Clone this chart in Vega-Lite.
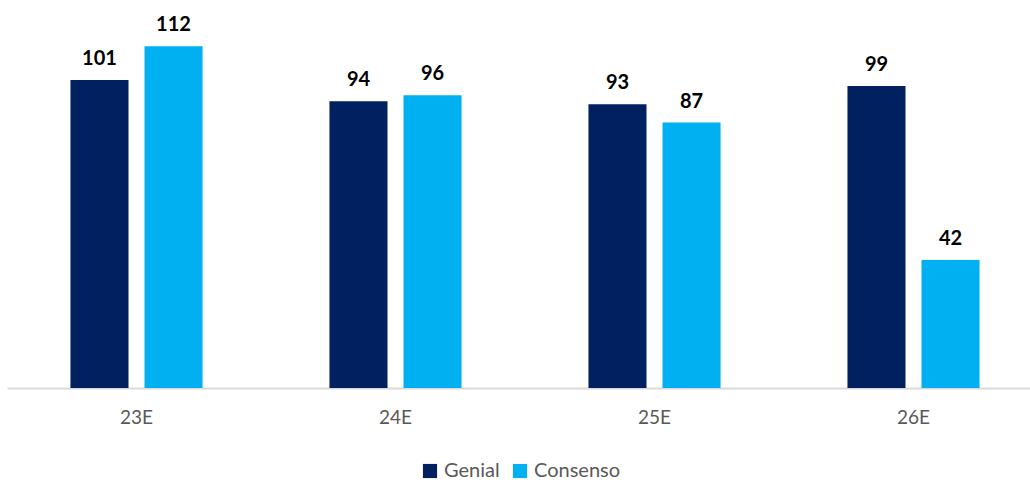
{
  "$schema": "https://vega.github.io/schema/vega-lite/v6.json",
  "width": 1023,
  "height": 388,
  "autosize": {"type": "none"},
  "padding": {"left": 7, "top": 0, "right": 0, "bottom": 95},
  "background": "white",
  "config": {"view": {"stroke": null}},
  "data": {"values": [
    {"ano": "23E", "serie": "Genial", "valor": 101},
    {"ano": "23E", "serie": "Consenso", "valor": 112},
    {"ano": "24E", "serie": "Genial", "valor": 94},
    {"ano": "24E", "serie": "Consenso", "valor": 96},
    {"ano": "25E", "serie": "Genial", "valor": 93},
    {"ano": "25E", "serie": "Consenso", "valor": 87},
    {"ano": "26E", "serie": "Genial", "valor": 99},
    {"ano": "26E", "serie": "Consenso", "valor": 42}
  ]},
  "encoding": {
    "x": {
      "field": "ano", "type": "nominal", "sort": null,
      "scale": {"range": [0, 1036], "paddingInner": 0.49, "paddingOuter": 0.245},
      "axis": {"title": null, "labelAngle": 0, "ticks": false, "domainColor": "#d9d9d9", "domainWidth": 2, "labelFont": "Lato", "labelFontSize": 19, "labelColor": "#595959", "labelPadding": 20}
    },
    "xOffset": {"field": "serie", "type": "nominal", "sort": ["Genial", "Consenso"], "scale": {"paddingInner": 0.216}},
    "y": {"field": "valor", "type": "quantitative", "scale": {"domain": [0, 127.2]}, "axis": null}
  },
  "layer": [
    {
      "mark": {"type": "bar"},
      "encoding": {
        "color": {
          "field": "serie", "type": "nominal", "sort": ["Genial", "Consenso"],
          "scale": {"domain": ["Genial", "Consenso"], "range": ["#002060", "#00B0F0"]},
          "legend": {"title": null, "orient": "none", "legendX": 413, "legendY": 461, "direction": "horizontal", "symbolType": "square", "symbolSize": 200, "symbolStrokeWidth": 0, "labelFont": "Lato", "labelFontSize": 20, "labelColor": "#595959", "columnPadding": 10, "labelOffset": 4}
        }
      }
    },
    {
      "mark": {"type": "text", "baseline": "bottom", "dy": -11, "font": "Lato", "fontSize": 20, "fontWeight": "bold", "color": "black"},
      "encoding": {"text": {"field": "valor", "type": "quantitative"}}
    }
  ]
}
